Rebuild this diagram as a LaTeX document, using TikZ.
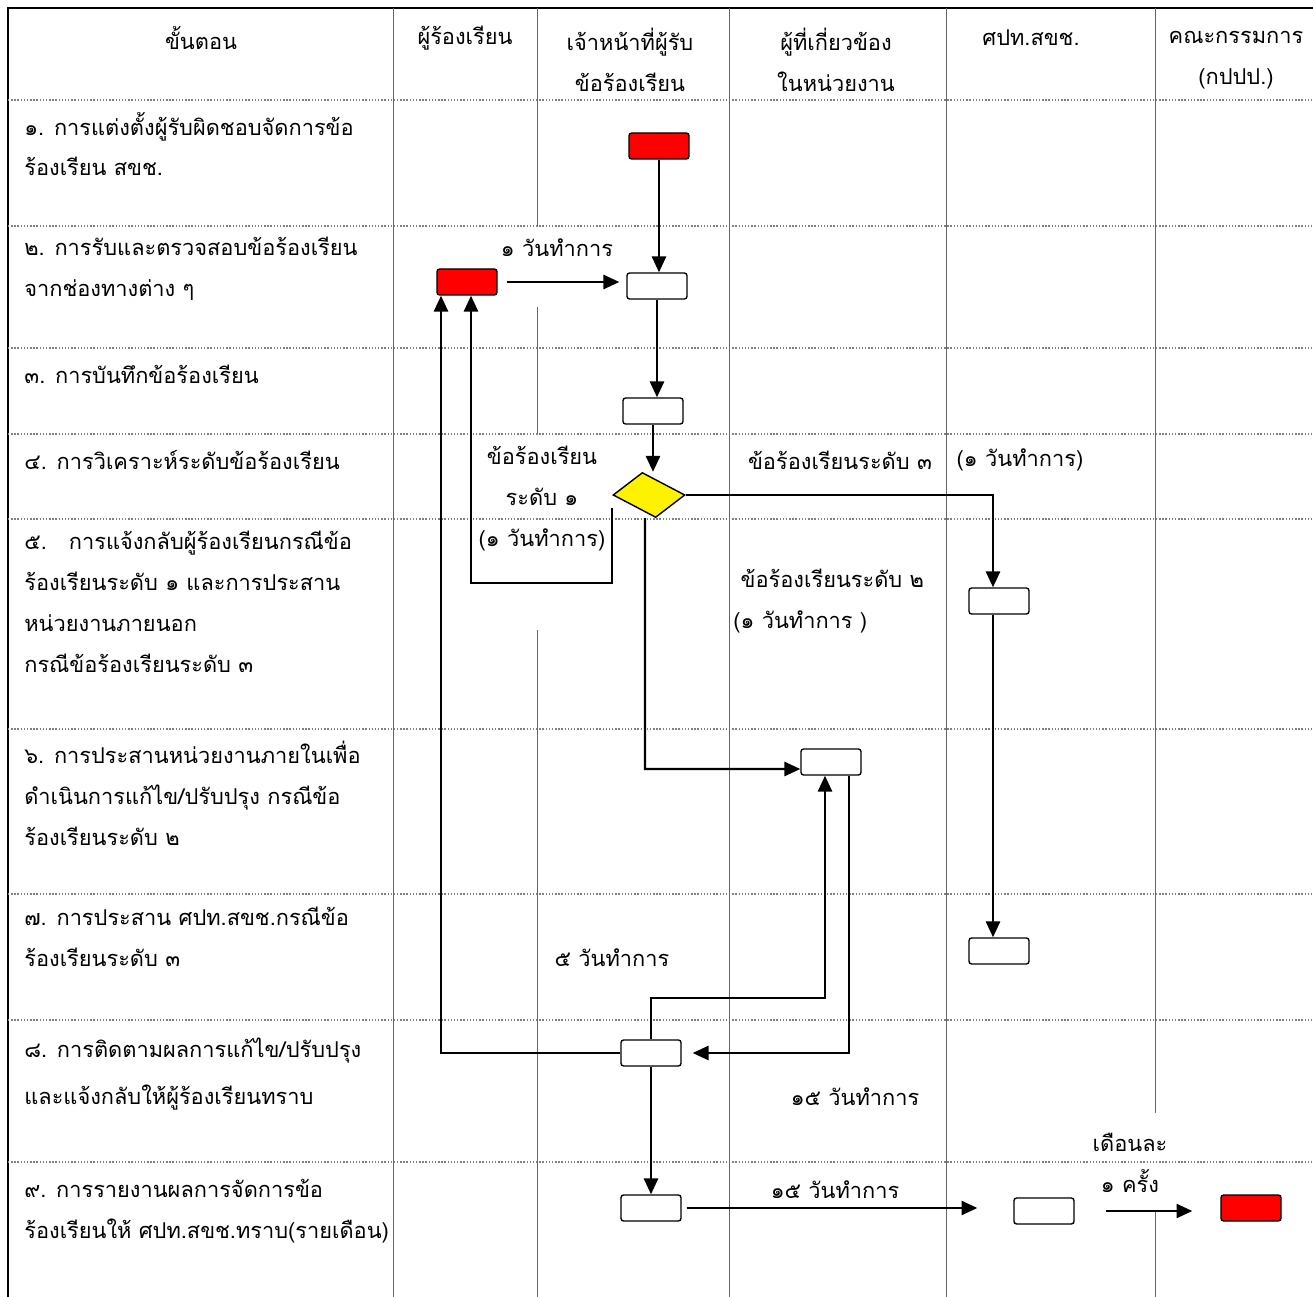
\documentclass[tikz,border=0pt]{standalone}
\usepackage{fontspec}
\newfontfamily\thaifont[Script=Thai]{Loma}
\usetikzlibrary{arrows.meta,shapes.geometric}

\begin{document}
\begin{tikzpicture}[x=0.02cm,y=-0.02cm,>={Triangle[length=9pt,width=8pt]},
    colline/.style={gray!80!black,line width=0.5pt},
    rowline/.style={gray,line width=0.8pt,densely dotted},
    frameline/.style={black,line width=0.9pt},
    txt/.style={font=\thaifont\fontsize{12.4}{23.3}\selectfont,inner sep=0pt},
    steptxt/.style={txt,anchor=west,align=left},
    headtxt/.style={txt,align=center},
    proc/.style={draw,rounded corners=1.5pt,line width=0.8pt,minimum width=1.2cm,minimum height=0.52cm,inner sep=0pt,fill=white},
    startend/.style={proc,fill=red},
    decision/.style={diamond,draw,line width=0.8pt,fill=yellow,minimum width=1.44cm,minimum height=0.9cm,inner sep=0pt},
    flow/.style={line width=1.3pt}]
\useasboundingbox (0,0) rectangle (1313,1297);

% table
\draw[frameline] (8,1297) -- (8,8) -- (1313,8);
\foreach \y in {100,226,348,434,519,729,894,1020,1162}
    \draw[rowline] (8,\y) -- (1313,\y);
\foreach \x in {393,729,946}
    \draw[colline] (\x,8) -- (\x,1297);
\draw[colline] (537,8) -- (537,226) (537,307) -- (537,433) (537,630) -- (537,1297);
\draw[colline] (1155,8) -- (1155,1113) (1155,1210) -- (1155,1297);

% header
\node[headtxt] (hstep) at (201,38) {ขั้นตอน};
\node[headtxt] (hcomp) at (465,38) {ผู้ร้องเรียน};
\node[headtxt] (hofficer) at (630,60) {เจ้าหน้าที่ผู้รับ\\ข้อร้องเรียน};
\node[headtxt] (hunit) at (836,60) {ผู้ที่เกี่ยวข้อง\\ในหน่วยงาน};
\node[headtxt] (hcenter) at (1031,38) {ศปท.สขช.};
\node[headtxt] (hboard) at (1236,60) {คณะกรรมการ\\(กปปป.)};

% steps
\node[steptxt] (s1) at (24,144) {๑. การแต่งตั้งผู้รับผิดชอบจัดการข้อ\\ร้องเรียน สขช.};
\node[steptxt] (s2) at (24,269) {๒. การรับและตรวจสอบข้อร้องเรียน\\จากช่องทางต่าง ๆ};
\node[steptxt] (s3) at (24,374) {๓. การบันทึกข้อร้องเรียน};
\node[steptxt] (s4) at (24,460) {๔. การวิเคราะห์ระดับข้อร้องเรียน};
\node[steptxt] (s5) at (24,602) {๕.\ \ \ การแจ้งกลับผู้ร้องเรียนกรณีข้อ\\ร้องเรียนระดับ ๑ และการประสาน\\หน่วยงานภายนอก\\กรณีข้อร้องเรียนระดับ ๓};
\node[steptxt] (s6) at (24,793) {๖. การประสานหน่วยงานภายในเพื่อ\\ดำเนินการแก้ไข/ปรับปรุง กรณีข้อ\\ร้องเรียนระดับ ๒};
\node[steptxt] (s7) at (24,937) {๗. การประสาน ศปท.สขช.กรณีข้อ\\ร้องเรียนระดับ ๓};
\node[steptxt] (s8) at (24,1074) {๘. การติดตามผลการแก้ไข/ปรับปรุง\\[3pt]และแจ้งกลับให้ผู้ร้องเรียนทราบ};
\node[steptxt] (s9) at (24,1211) {๙. การรายงานผลการจัดการข้อ\\ร้องเรียนให้ ศปท.สขช.ทราบ(รายเดือน)};

% flow shapes
\node[startend] (appoint) at (659,146) {};
\node[startend] (complainant) at (467,282) {};
\node[proc] (receive) at (657,286) {};
\node[proc] (record) at (653,411) {};
\begin{scope}[shift={(649,495)},xslant=-0.3]
\node[decision,transform shape] (analyse) at (0,0) {};
\end{scope}
\node[proc] (center3) at (999,601) {};
\node[proc] (unit) at (831,762) {};
\node[proc] (center7) at (999,951) {};
\node[proc] (follow) at (651,1053) {};
\node[proc] (report) at (651,1208) {};
\node[proc] (center9) at (1044,1211) {};
\node[startend] (board) at (1251,1208) {};

% connectors
\coordinate (back1) at (471,583);
\coordinate (down2) at (645,769);
\coordinate (up7) at (653,998);
\draw[flow,->] (appoint.south) -- (appoint.south |- receive.north);
\draw[flow,->,shorten <=0.18cm,shorten >=0.14cm] (complainant.east) -- (complainant.east -| receive.west);
\draw[flow,->] (receive.south) -- (receive.south |- record.north);
\draw[flow,->] (record.south) -- (record.south |- analyse.north);
\draw[flow,->] (analyse.east) -| ([xshift=-0.12cm]center3.north);
\draw[flow,->] ([yshift=-0.26cm]analyse.west) |- (back1) -- (back1 |- complainant.south);
\draw[flow,->] ([xshift=-0.22cm]analyse.south) -- (down2) -- (down2 -| unit.west);
\draw[flow,->] ([xshift=-0.12cm]center3.south) -- ([xshift=-0.12cm]center7.north);
\draw[flow,->,shorten >=0.22cm] ([xshift=0.36cm]unit.south) |- (follow.east);
\draw[flow,->] (follow.north) -- (follow.north |- up7) -| ([xshift=-0.12cm]unit.south);
\draw[flow,->] (follow.west) -| ([xshift=-0.52cm]complainant.south);
\draw[flow,->] (follow.south) -- (report.north);
\draw[flow,->,shorten <=0.1cm,shorten >=0.72cm] (report.east) -- (report.east -| center9.west);
\draw[flow,->,shorten <=0.62cm,shorten >=0.56cm] (center9.east) -- (center9.east -| board.west);

% labels
\node[txt] (d1) at (557,248) {๑ วันทำการ};
\node[txt,align=center] (lvl1) at (542,499) {ข้อร้องเรียน\\ระดับ ๑\\(๑ วันทำการ)};
\node[txt] (lvl3) at (840,460) {ข้อร้องเรียนระดับ ๓};
\node[txt] (d3) at (1020,460) {(๑ วันทำการ)};
\node[txt,align=left,anchor=west] (lvl2) at (733,601) {\ ข้อร้องเรียนระดับ ๒\\(๑ วันทำการ )};
\node[txt] (d5) at (612,958) {๕ วันทำการ};
\node[txt] (d15a) at (855,1097) {๑๕ วันทำการ};
\node[txt] (d15b) at (835,1190) {๑๕ วันทำการ};
\node[txt,align=center] (monthly) at (1130,1163) {เดือนละ\\๑ ครั้ง};
\end{tikzpicture}
\end{document}
